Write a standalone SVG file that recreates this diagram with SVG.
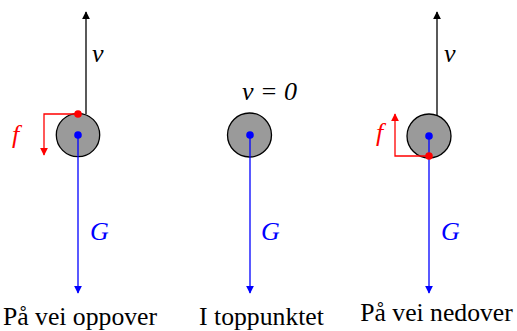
<svg xmlns="http://www.w3.org/2000/svg" width="517" height="331" viewBox="0 0 517 331">
<defs>
<style>
.ball{fill:#9a9a9a;stroke:#000;stroke-width:1.3}
.v{fill:none;stroke:#000;stroke-width:1.3}
.f{fill:none;stroke:#f00;stroke-width:1.3}
.g{fill:none;stroke:#00f;stroke-width:1.3}
</style>
<marker id="ak" viewBox="0 0 10 10" refX="9" refY="5" markerWidth="8" markerHeight="8" markerUnits="userSpaceOnUse" orient="auto"><path d="M0,0 L10,5 L0,10 Z" fill="#000"/></marker>
<marker id="ar" viewBox="0 0 10 10" refX="9" refY="5" markerWidth="8" markerHeight="8" markerUnits="userSpaceOnUse" orient="auto"><path d="M0,0 L10,5 L0,10 Z" fill="#f00"/></marker>
<marker id="ab" viewBox="0 0 10 10" refX="9" refY="5" markerWidth="8" markerHeight="8" markerUnits="userSpaceOnUse" orient="auto"><path d="M0,0 L10,5 L0,10 Z" fill="#00f"/></marker>
</defs>
<g id="ball-up"><circle class="ball" cx="78" cy="135" r="21.7"/></g>
<g id="ball-top"><circle class="ball" cx="249.5" cy="135" r="22"/></g>
<g id="ball-down"><circle class="ball" cx="429" cy="136" r="22"/></g>
<g id="connectors">
<line class="v" x1="86" y1="114" x2="86" y2="12" marker-end="url(#ak)"/>
<path class="f" d="M78,114 H44 V155" marker-end="url(#ar)"/>
<line class="g" x1="78" y1="135" x2="78" y2="293" marker-end="url(#ab)"/>
<line class="g" x1="250" y1="135" x2="250" y2="293" marker-end="url(#ab)"/>
<line class="v" x1="437" y1="115" x2="437" y2="12" marker-end="url(#ak)"/>
<path class="f" d="M429,156 H395 V114" marker-end="url(#ar)"/>
<line class="g" x1="429" y1="136" x2="429" y2="293" marker-end="url(#ab)"/>
</g>
<g id="dots">
<circle cx="78" cy="114" r="3.8" fill="#f00"/>
<circle cx="78" cy="135" r="3.8" fill="#00f"/>
<circle cx="250" cy="135" r="3.8" fill="#00f"/>
<circle cx="429" cy="136" r="3.8" fill="#00f"/>
<circle cx="429" cy="156" r="3.8" fill="#f00"/>
</g>
<g id="labels" font-family="'Liberation Serif', 'Times New Roman', serif" font-size="26">
<g font-style="italic">
<text x="92" y="62" fill="#000">v</text>
<text x="12" y="143" fill="#f00">f</text>
<text x="90" y="240" fill="#00f">G</text>
<text x="269.5" y="100" fill="#000" text-anchor="middle">v = 0</text>
<text x="261" y="240" fill="#00f">G</text>
<text x="444" y="62" fill="#000">v</text>
<text x="376" y="141" fill="#f00">f</text>
<text x="441" y="240" fill="#00f">G</text>
</g>
<text x="80" y="325" text-anchor="middle" font-size="25.7">På vei oppover</text>
<text x="261.5" y="325" text-anchor="middle" font-size="25.7">I toppunktet</text>
<text x="436.5" y="321" text-anchor="middle" font-size="25.7">På vei nedover</text>
</g>
</svg>
